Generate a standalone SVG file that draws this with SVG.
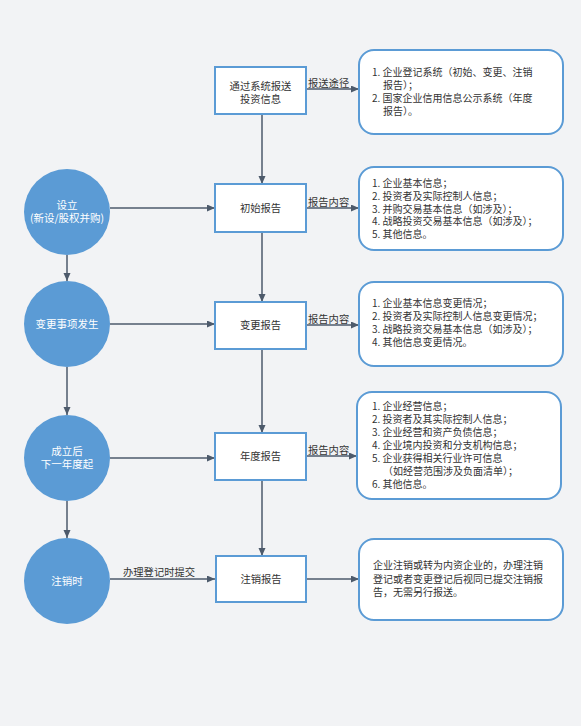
<svg xmlns="http://www.w3.org/2000/svg" width="581" height="726" viewBox="0 0 581 726">
<defs>
<marker id="arr" markerUnits="userSpaceOnUse" markerWidth="9" markerHeight="8" refX="8" refY="3.5" orient="auto">
<path d="M0,0 L8,3.5 L0,7 z" fill="#4d5a6b"/>
</marker>
<style>
text{font-family:"Noto Sans CJK SC","Noto Sans",sans-serif;fill:#333;}
.box{fill:#fff;stroke:#5b9bd5;stroke-width:2;}
.rbox{fill:#fff;stroke:#5b9bd5;stroke-width:2;}
.circ{fill:#5b9bd5;}
.ct{fill:#fff;font-size:10.5px;text-anchor:middle;}
.bt{font-size:10.3px;text-anchor:middle;}
.rt{font-size:10px;}
.lbl{font-size:10.3px;}
.con line{stroke:#4d5a6b;stroke-width:1.5;marker-end:url(#arr);}
</style>
</defs>
<rect width="581" height="726" fill="#f2f3f5"/>
<g class="con">
<line x1="262" y1="114" x2="262" y2="184"/>
<line x1="262" y1="232" x2="262" y2="302"/>
<line x1="262" y1="349" x2="262" y2="433"/>
<line x1="262" y1="480" x2="262" y2="556"/>
<line x1="306" y1="89" x2="359" y2="89"/>
<line x1="306" y1="208" x2="359" y2="208"/>
<line x1="306" y1="325" x2="359" y2="325"/>
<line x1="306" y1="456" x2="357" y2="456"/>
<line x1="306" y1="579" x2="359" y2="579"/>
<line x1="110" y1="208" x2="215" y2="208"/>
<line x1="110" y1="324" x2="215" y2="324"/>
<line x1="110" y1="458" x2="215" y2="458"/>
<line x1="110" y1="579" x2="215" y2="579"/>
<line x1="67" y1="255" x2="67" y2="281"/>
<line x1="67" y1="367" x2="67" y2="415"/>
<line x1="67" y1="501" x2="67" y2="538"/>
<text class="lbl" x="308" y="87">报送途径</text>
<text class="lbl" x="308" y="206">报告内容</text>
<text class="lbl" x="308" y="323">报告内容</text>
<text class="lbl" x="308" y="454">报告内容</text>
<text class="lbl" x="123" y="576">办理登记时提交</text>
</g>
<g id="c1"><circle class="circ" cx="67" cy="212" r="43"/><text class="ct" x="67" y="209">设立<tspan x="67" dy="12.5">(新设/股权并购)</tspan></text></g>
<g id="c2"><circle class="circ" cx="67" cy="324" r="43"/><text class="ct" x="67" y="328">变更事项发生</text></g>
<g id="c3"><circle class="circ" cx="67" cy="458" r="43"/><text class="ct" x="67" y="455">成立后<tspan x="67" dy="13">下一年度起</tspan></text></g>
<g id="c4"><circle class="circ" cx="67" cy="581" r="43"/><text class="ct" x="67" y="585">注销时</text></g>
<g id="b0"><rect class="box" x="215" y="67" width="91" height="47"/><text class="bt" x="260.5" y="90">通过系统报送<tspan x="260.5" dy="13">投资信息</tspan></text></g>
<g id="b1"><rect class="box" x="215" y="184" width="91" height="48"/><text class="bt" x="260.5" y="212">初始报告</text></g>
<g id="b2"><rect class="box" x="215" y="302" width="91" height="47"/><text class="bt" x="260.5" y="329">变更报告</text></g>
<g id="b3"><rect class="box" x="215" y="433" width="91" height="47"/><text class="bt" x="260.5" y="460">年度报告</text></g>
<g id="b4"><rect class="box" x="216" y="556" width="90" height="46"/><text class="bt" x="261" y="583">注销报告</text></g>
<g id="r0"><rect class="rbox" x="359" y="50" width="204" height="84" rx="15"/>
<text class="rt" x="372" y="76">1. 企业登记系统（初始、变更、注销<tspan x="383" dy="13">报告）；</tspan><tspan x="372" dy="13">2. 国家企业信用信息公示系统（年度</tspan><tspan x="383" dy="13">报告）。</tspan></text></g>
<g id="r1"><rect class="rbox" x="359" y="167" width="204" height="83" rx="15"/>
<text class="rt" x="372" y="187">1. 企业基本信息；<tspan x="372" dy="12.75">2. 投资者及实际控制人信息；</tspan><tspan x="372" dy="12.75">3. 并购交易基本信息（如涉及）；</tspan><tspan x="372" dy="12.75">4. 战略投资交易基本信息（如涉及）；</tspan><tspan x="372" dy="12.75">5. 其他信息。</tspan></text></g>
<g id="r2"><rect class="rbox" x="359" y="282" width="204" height="84" rx="15"/>
<text class="rt" x="372" y="307">1. 企业基本信息变更情况；<tspan x="372" dy="13">2. 投资者及实际控制人信息变更情况；</tspan><tspan x="372" dy="13">3. 战略投资交易基本信息（如涉及）；</tspan><tspan x="372" dy="13">4. 其他信息变更情况。</tspan></text></g>
<g id="r3"><rect class="rbox" x="357" y="392" width="204" height="107" rx="15"/>
<text class="rt" x="372" y="410">1. 企业经营信息；<tspan x="372" dy="13">2. 投资者及其实际控制人信息；</tspan><tspan x="372" dy="13">3. 企业经营和资产负债信息；</tspan><tspan x="372" dy="13">4. 企业境内投资和分支机构信息；</tspan><tspan x="372" dy="13">5. 企业获得相关行业许可信息</tspan><tspan x="383" dy="13">（如经营范围涉及负面清单）；</tspan><tspan x="372" dy="13">6. 其他信息。</tspan></text></g>
<g id="r4"><rect class="rbox" x="359" y="539" width="204" height="81" rx="15"/>
<text class="rt" x="373" y="569">企业注销或转为内资企业的，办理注销<tspan x="373" dy="13.5">登记或者变更登记后视同已提交注销报</tspan><tspan x="373" dy="13.5">告，无需另行报送。</tspan></text></g>
</svg>
